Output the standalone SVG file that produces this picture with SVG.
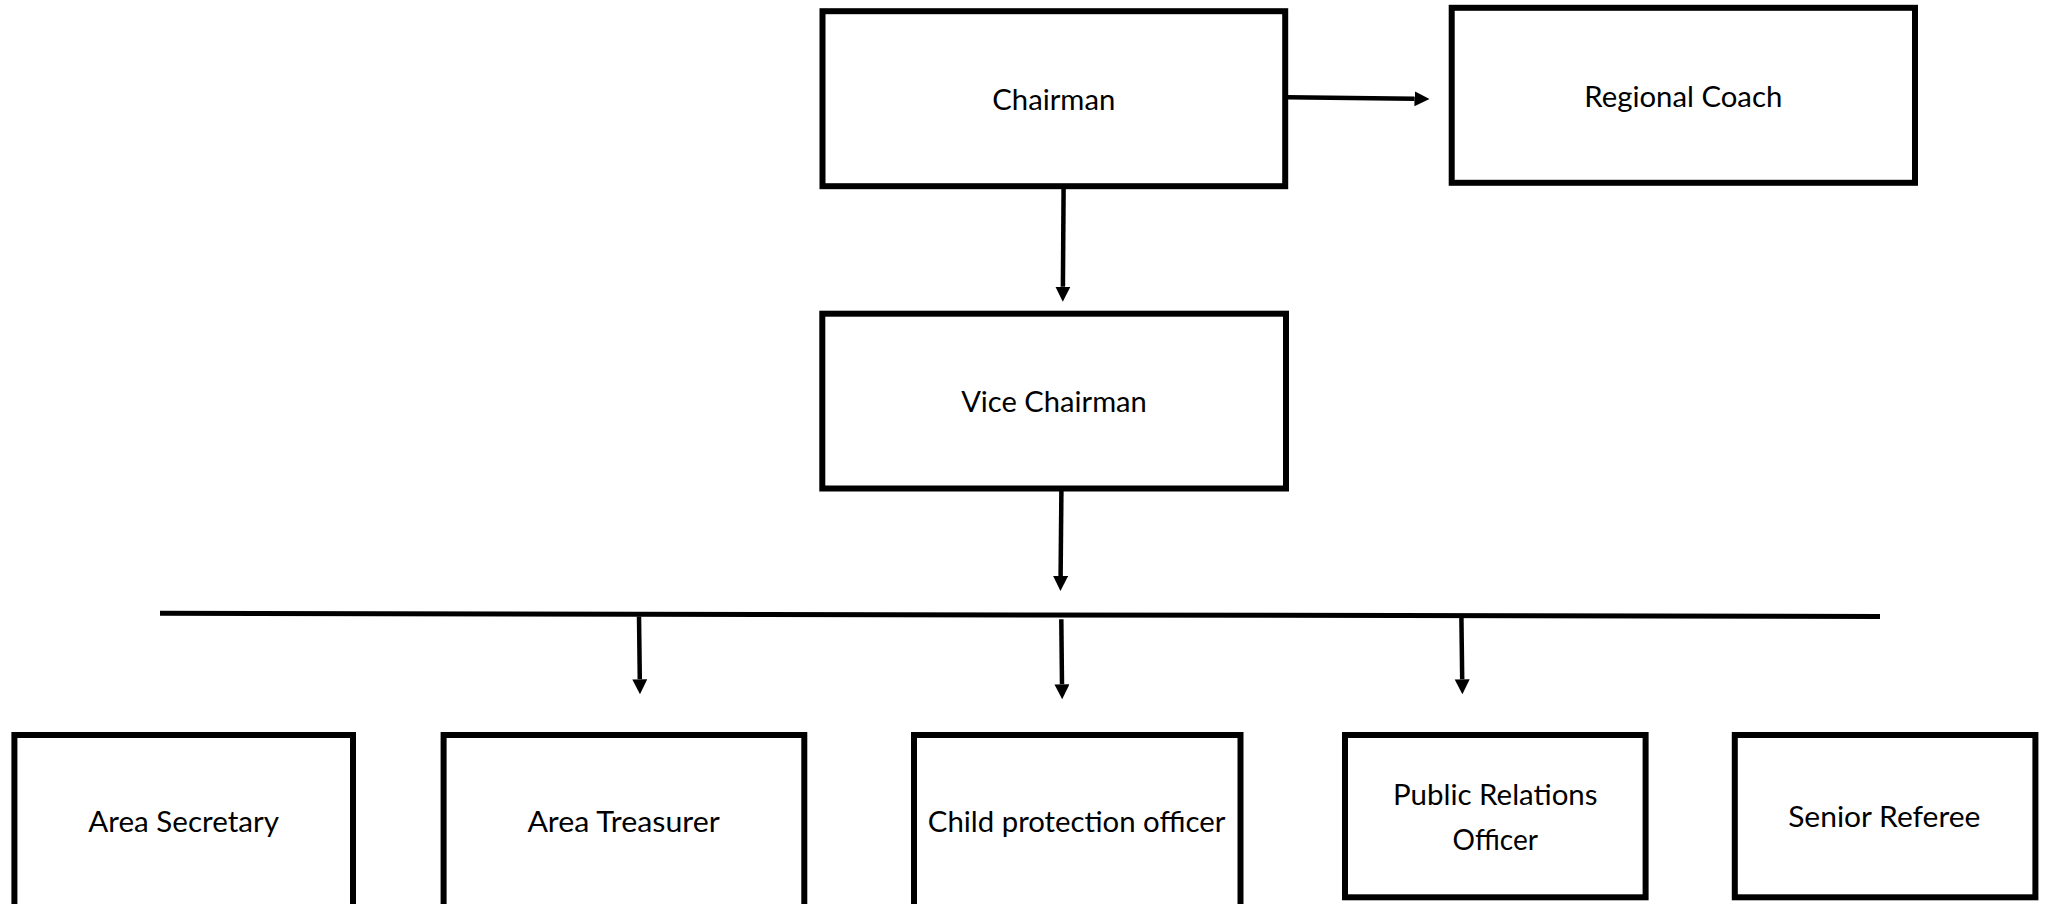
<svg xmlns="http://www.w3.org/2000/svg" width="2046" height="904" viewBox="0 0 2046 904">
  <style>
    .box { fill: #ffffff; stroke: #000000; stroke-width: 6; }
    .lbl { font-family: Lato, "Open Sans", "Liberation Sans", sans-serif; font-size: 28px; fill: #000000; text-anchor: middle; }
    .conn { stroke: #000000; stroke-width: 4.5; fill: none; }
    .bus { stroke: #000000; stroke-width: 5; fill: none; }
  </style>
  <defs>
    <marker id="arrow" markerUnits="userSpaceOnUse" markerWidth="16" markerHeight="16" refX="0" refY="7.5" orient="auto" viewBox="0 0 16 16">
      <path d="M0,0 L15,7.5 L0,15 Z" fill="#000000"/>
    </marker>
  </defs>
  <rect width="2046" height="904" fill="#ffffff"/>

  <g id="connectors">
    <line class="conn" x1="1288" y1="97.3" x2="1414.5" y2="98.8" marker-end="url(#arrow)"/>
    <line class="conn" x1="1063.6" y1="189" x2="1062.9" y2="286.7" marker-end="url(#arrow)"/>
    <line class="conn" x1="1061.4" y1="491" x2="1060.6" y2="576" marker-end="url(#arrow)"/>
    <line class="bus" x1="160" y1="613.3" x2="1880" y2="616.5"/>
    <line class="conn" x1="639" y1="616.5" x2="639.8" y2="679.3" marker-end="url(#arrow)"/>
    <line class="conn" x1="1061.3" y1="619.3" x2="1062" y2="684.3" marker-end="url(#arrow)"/>
    <line class="conn" x1="1461.4" y1="617" x2="1462.2" y2="679.3" marker-end="url(#arrow)"/>
  </g>

  <g id="chairman">
    <rect class="box" x="822.5" y="11.2" width="462.7" height="175"/>
    <text class="lbl" x="1053.8" y="110" textLength="123" lengthAdjust="spacingAndGlyphs">Chairman</text>
  </g>
  <g id="regional-coach">
    <rect class="box" x="1451.7" y="7.8" width="463.3" height="175"/>
    <text class="lbl" x="1683.3" y="106.7" textLength="198" lengthAdjust="spacingAndGlyphs">Regional Coach</text>
  </g>
  <g id="vice-chairman">
    <rect class="box" x="822.3" y="313.7" width="463.7" height="174.8"/>
    <text class="lbl" x="1054" y="411.7" textLength="185.7" lengthAdjust="spacingAndGlyphs">Vice Chairman</text>
  </g>
  <g id="area-secretary">
    <rect class="box" x="14.4" y="735" width="338.6" height="220"/>
    <text class="lbl" x="183.7" y="832.3" textLength="190.7" lengthAdjust="spacingAndGlyphs">Area Secretary</text>
  </g>
  <g id="area-treasurer">
    <rect class="box" x="443.6" y="735" width="360.7" height="220"/>
    <text class="lbl" x="623.6" y="832.3" textLength="192.4" lengthAdjust="spacingAndGlyphs">Area Treasurer</text>
  </g>
  <g id="child-protection-officer">
    <rect class="box" x="914" y="735" width="326.5" height="220"/>
    <text class="lbl" x="1076.6" y="832.3" textLength="297.5" lengthAdjust="spacingAndGlyphs">Child protection officer</text>
  </g>
  <g id="public-relations-officer">
    <rect class="box" x="1345" y="735" width="300.6" height="162.3"/>
    <text class="lbl" x="1495.3" y="805" textLength="204.5" lengthAdjust="spacingAndGlyphs">Public Relations</text>
    <text class="lbl" x="1495.3" y="850" textLength="85.4" lengthAdjust="spacingAndGlyphs">Officer</text>
  </g>
  <g id="senior-referee">
    <rect class="box" x="1734.8" y="735" width="300.6" height="162.3"/>
    <text class="lbl" x="1884.3" y="826.7" textLength="192.2" lengthAdjust="spacingAndGlyphs">Senior Referee</text>
  </g>
</svg>
